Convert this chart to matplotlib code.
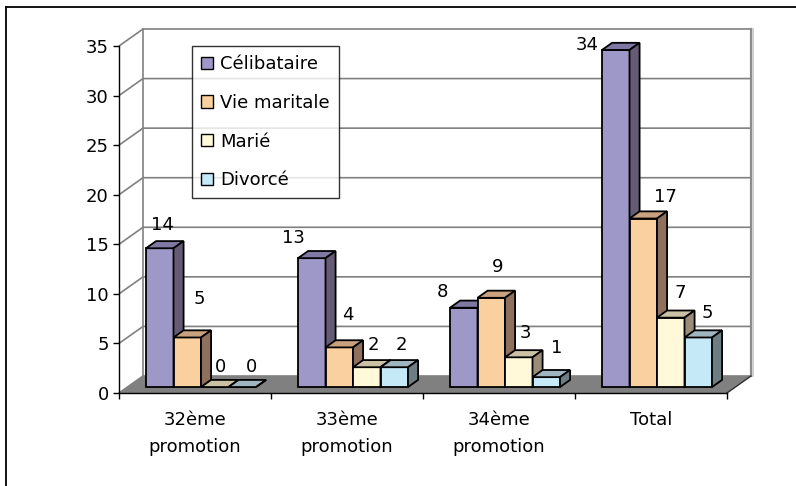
import matplotlib
matplotlib.use("Agg")
import matplotlib.pyplot as plt
from matplotlib.patches import Polygon, Rectangle
from matplotlib.lines import Line2D

# ---------------- data ----------------
categories = ["32ème\npromotion", "33ème\npromotion", "34ème\npromotion", "Total"]
series_names = ["Célibataire", "Vie maritale", "Marié", "Divorcé"]
celibataire = [14, 13, 8, 34]
vie_maritale = [5, 4, 9, 17]
marie = [0, 2, 3, 7]
divorce = [0, 2, 1, 5]
y_ticks = [0, 5, 10, 15, 20, 25, 30, 35]

series_values = [celibataire, vie_maritale, marie, divorce]

# ---------------- style ----------------
front_colors = ["#9E98C8", "#FBD09F", "#FFF9DA", "#C6E9F8"]
top_colors = ["#7E78A2", "#C9A17E", "#CAC0A3", "#9FB5BF"]
side_colors = ["#655B74", "#8F705D", "#9C8C7A", "#6E7D84"]

# label nudges in pixels (right, down) relative to a nominal spot above each bar
label_nudges = [
    [(-1, 2), (8, -13), (2, 5), (5, 5)],
    [(-22, 5), (5, -7), (3, 3), (3, 3)],
    [(-25, 9), (2, -6), (3, 1), (6, -4)],
    [(-33, 20), (18, 3), (6, 0), (5, 1)],
]

plt.rcParams["font.family"] = ["DejaVu Sans"]
FS = 13

W, H = 796, 486
fig = plt.figure(figsize=(W / 100, H / 100), dpi=100)
fig.patch.set_facecolor("white")

# front plane of the 3D box, in pixels
left_px, right_px, top_px, bot_px = 119, 727, 46, 393
ax = fig.add_axes([left_px / W, (H - bot_px) / H,
                   (right_px - left_px) / W, (bot_px - top_px) / H])
ncat = len(categories)
ymax = y_ticks[-1]
ax.set_xlim(0, ncat)
ax.set_ylim(0, ymax)
ax.set_facecolor("none")

PX_X = (right_px - left_px) / ncat
PX_Y = (bot_px - top_px) / ymax
DX = 24 / PX_X
DY = 17 / PX_Y

grid_c = "#808080"
# back wall + left wall gridlines
for v in y_ticks:
    ax.plot([0, DX, ncat + DX], [v, v + DY, v + DY], color=grid_c, lw=1.2,
            clip_on=False, zorder=1, solid_capstyle="butt")
ax.plot([DX, DX], [DY, ymax + DY], color=grid_c, lw=1.2, clip_on=False, zorder=1)
ax.plot([ncat + DX, ncat + DX], [DY, ymax + DY], color="#8C8C8C", lw=1.6,
        clip_on=False, zorder=1)
ax.plot([ncat + DX + 1.6 / PX_X] * 2, [DY, ymax + DY], color="#C8C8C8", lw=1.2,
        clip_on=False, zorder=1)

# floor
ax.add_patch(Polygon([(0, 0), (ncat, 0), (ncat + DX, DY), (DX, DY)],
                     closed=True, fc="#808080", ec="none", zorder=1.5, clip_on=False))
ax.plot([ncat, ncat + DX], [0, DY], color="#303030", lw=1, clip_on=False, zorder=1.6)

# bars
bar_offset = 27 / PX_X
bar_w = 27.5 / PX_X
front_depth = 0.35
bar_depth = 0.42
y0 = front_depth * DY
ddx = bar_depth * DX
ddy = bar_depth * DY
z = 3
for i in range(ncat):
    for j, vals in enumerate(series_values):
        v = vals[i]
        x0 = i + bar_offset + j * bar_w
        kw = dict(closed=True, ec="black", lw=1.3, clip_on=False, joinstyle="miter")
        ax.add_patch(Polygon([(x0, y0), (x0 + bar_w, y0), (x0 + bar_w, y0 + v), (x0, y0 + v)],
                             fc=front_colors[j], zorder=z, **kw))
        ax.add_patch(Polygon([(x0, y0 + v), (x0 + bar_w, y0 + v),
                              (x0 + bar_w + ddx, y0 + v + ddy), (x0 + ddx, y0 + v + ddy)],
                             fc=top_colors[j], zorder=z + 0.1, **kw))
        ax.add_patch(Polygon([(x0 + bar_w, y0), (x0 + bar_w + ddx, y0 + ddy),
                              (x0 + bar_w + ddx, y0 + v + ddy), (x0 + bar_w, y0 + v)],
                             fc=side_colors[j], zorder=z + 0.2, **kw))
        z += 1
        nx, ny = label_nudges[i][j]
        lx = x0 + bar_w / 2 + 4 / PX_X + nx / PX_X
        ly = y0 + v + 25 / PX_Y - ny / PX_Y
        ax.text(lx, ly, str(v), ha="center", va="center", fontsize=FS,
                zorder=100, clip_on=False)

# axes styling
for s in ["top", "right"]:
    ax.spines[s].set_visible(False)
for s in ["left", "bottom"]:
    ax.spines[s].set_color("black")
    ax.spines[s].set_linewidth(1.0)
    ax.spines[s].set_zorder(50)
ax.set_yticks(y_ticks)
ax.set_yticklabels([str(t) for t in y_ticks])
ax.tick_params(axis="y", direction="out", length=4.3, width=1, pad=3, labelsize=FS)
ax.set_xticks(range(ncat + 1))
ax.set_xticklabels([])
ax.set_xticks([k + 0.5 for k in range(ncat)], minor=True)
ax.set_xticklabels(categories, minor=True, fontsize=FS, linespacing=1.65)
ax.tick_params(axis="x", which="major", direction="out", length=4.3, width=1)
ax.tick_params(axis="x", which="minor", length=0, pad=13)

# legend
handles = [Rectangle((0, 0), 1, 1, fc=c, ec="black", lw=1) for c in front_colors]
leg = fig.legend(handles, series_names, loc="upper left",
                 bbox_to_anchor=(192 / W, 1 - 46 / H), bbox_transform=fig.transFigure,
                 fontsize=FS, frameon=True, fancybox=False, shadow=False,
                 handlelength=0.66, handleheight=0.66, handletextpad=0.4,
                 labelspacing=1.15, borderpad=0.5, borderaxespad=0)
leg.get_frame().set_edgecolor("black")
leg.get_frame().set_linewidth(1)
leg.set_zorder(200)

# outer frame (left + top)
fig.add_artist(Line2D([6 / W, 6 / W], [0, 1 - 7 / H], transform=fig.transFigure,
                      color="black", lw=1.3))
fig.add_artist(Line2D([6 / W, 1], [1 - 7 / H, 1 - 7 / H], transform=fig.transFigure,
                      color="black", lw=1.3))

fig.savefig("out.png", dpi=100, facecolor="white")
